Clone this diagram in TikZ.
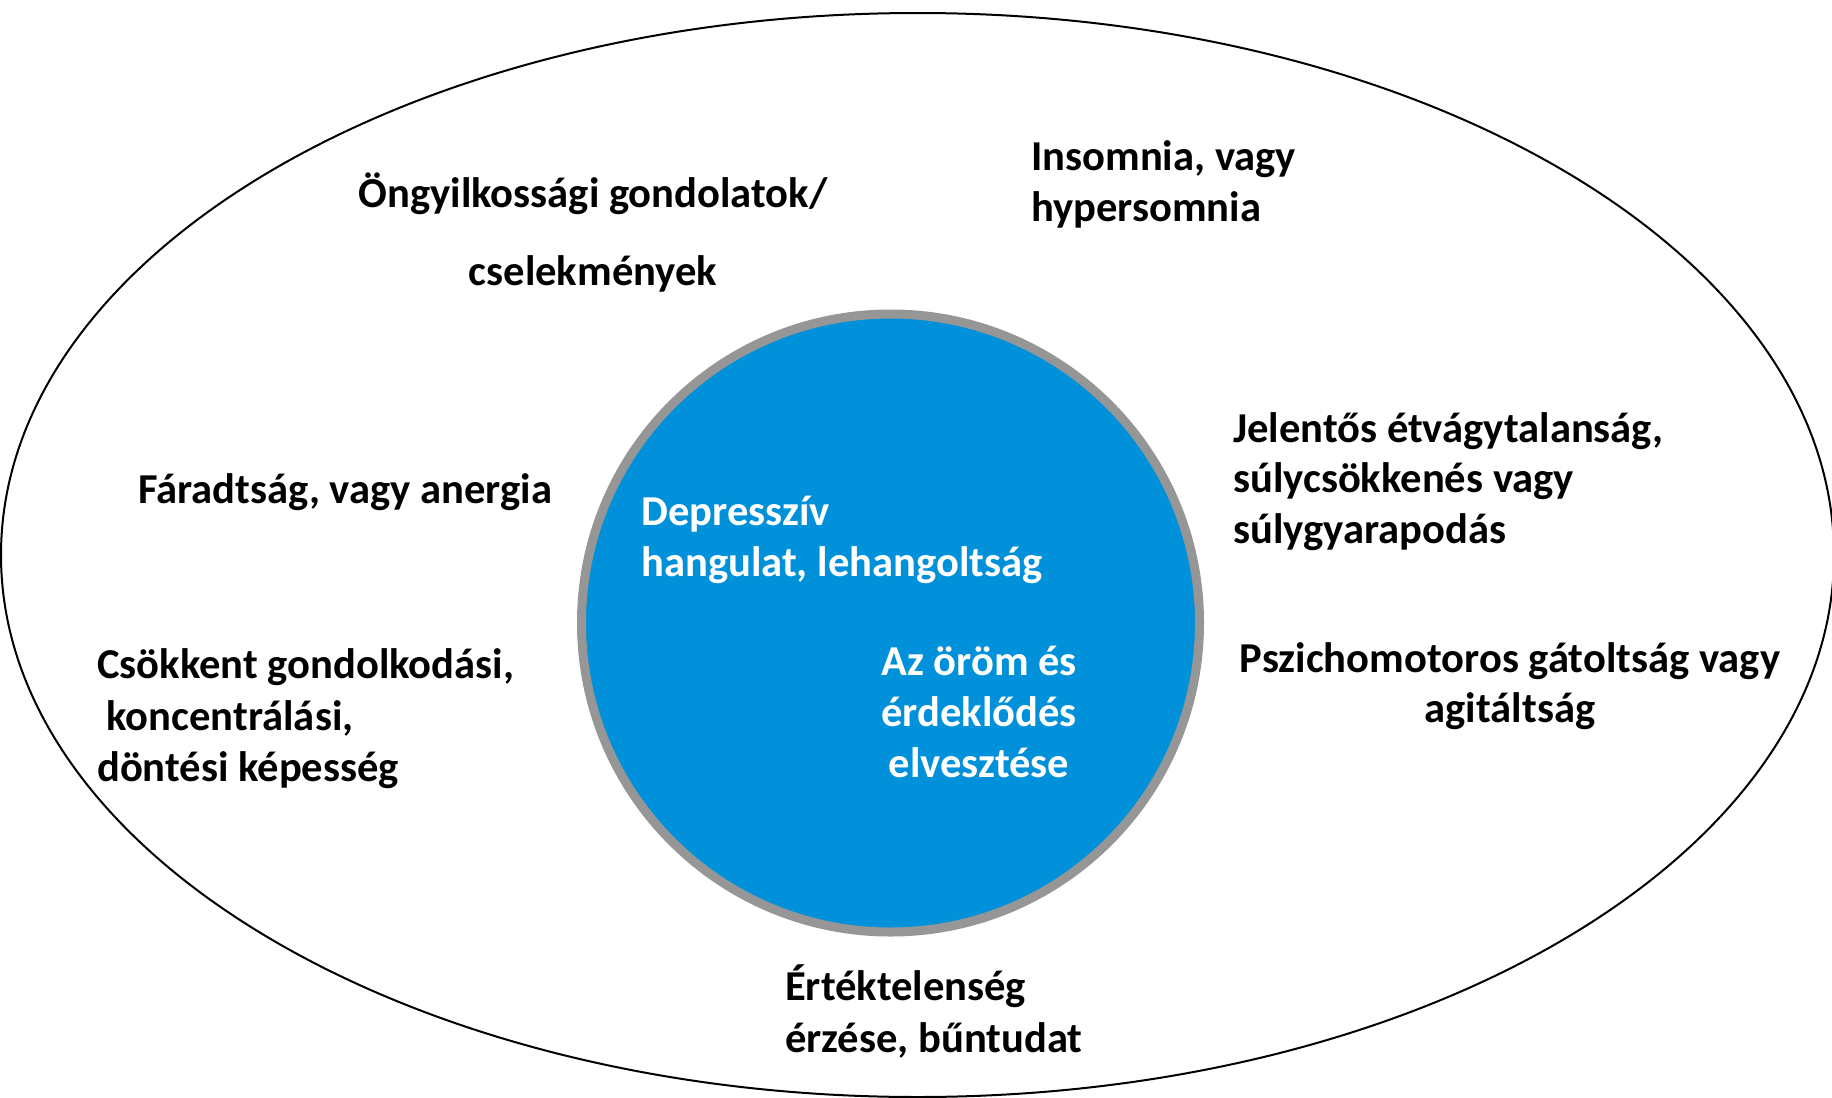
\documentclass[tikz,border=0pt]{standalone}
\usepackage{fontspec}
\setmainfont{Carlito}
\definecolor{cblue}{RGB}{0,145,218}
\definecolor{cgray}{RGB}{150,150,150}
\tikzset{
  lbl/.style={font=\fontsize{42.6}{51}\selectfont\bfseries, inner sep=0pt, text=black},
  wlbl/.style={lbl, text=white},
}
\begin{document}
\begin{tikzpicture}[x=1pt,y=-1pt]
\useasboundingbox (0,0) rectangle (1832,1098);
\fill[white] (0,0) rectangle (1832,1098);
\draw[black, line width=2pt] (917.5,555) ellipse [x radius=916.5, y radius=542];
\draw[cgray, fill=cblue, line width=9pt] (890.5,623) circle [radius=309];

% base anchor of a multi-line node = baseline of its last line
\node[lbl, align=center, anchor=base, font=\fontsize{42.6}{78}\selectfont\bfseries] (suicide) at (593,285) {Öngyilkossági gondolatok/\\cselekmények};
\node[lbl, align=left, anchor=base west] (sleep) at (1031,221.5) {Insomnia, vagy\\hypersomnia};
\node[lbl, align=left, anchor=base west, font=\fontsize{42.6}{50.5}\selectfont\bfseries] (appetite) at (1233,543) {Jelentős étvágytalanság,\\súlycsökkenés vagy\\súlygyarapodás};
\node[lbl, align=center, anchor=base, font=\fontsize{42.6}{50}\selectfont\bfseries] (psycho) at (1510,722.5) {Pszichomotoros gátoltság vagy\\agitáltság};
\node[lbl, align=left, anchor=base west, font=\fontsize{42.6}{52}\selectfont\bfseries] (worth) at (785,1052.5) {Értéktelenség\\érzése, bűntudat};
\node[lbl, align=left, anchor=base west, font=\fontsize{42.6}{51.5}\selectfont\bfseries] (think) at (97,781.5) {Csökkent gondolkodási,\\\hspace*{9.5pt}koncentrálási,\\döntési képesség};
\node[lbl, anchor=base west] (fatigue) at (138,503.5) {Fáradtság, vagy anergia};
\node[wlbl, align=left, anchor=base west] (mood) at (641,576.5) {Depresszív\\hangulat, lehangoltság};
\node[wlbl, align=center, anchor=base] (joy) at (979,777.5) {Az öröm és\\érdeklődés\\elvesztése};
\end{tikzpicture}
\end{document}
